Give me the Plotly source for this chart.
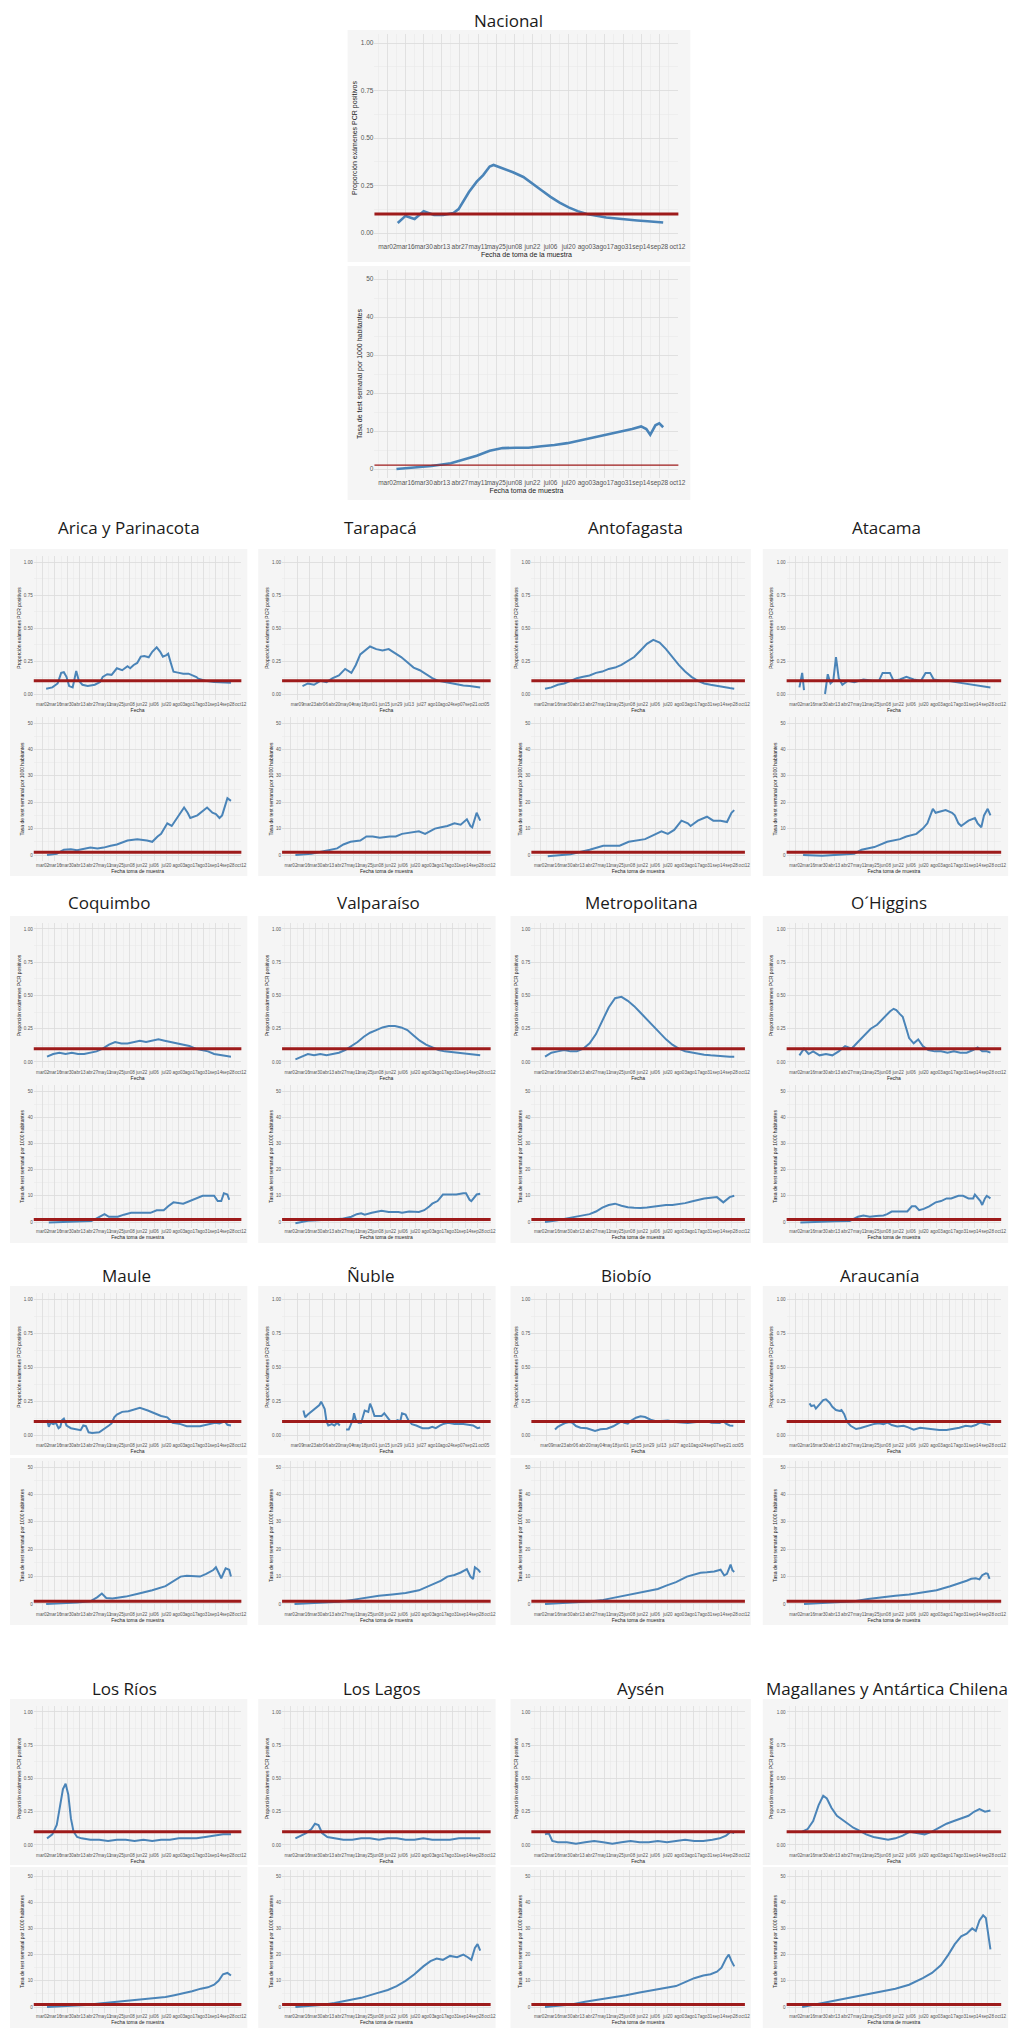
import plotly.graph_objects as go
import pandas as pd

W, H = 1034, 2029
BASE = pd.Timestamp("2020-03-01")
X_RANGE = ["2020-02-21", "2020-10-12 18:00"]

TICK_DATES = ["2020-03-02", "2020-03-16", "2020-03-30", "2020-04-13", "2020-04-27", "2020-05-11",
              "2020-05-25", "2020-06-08", "2020-06-22", "2020-07-06", "2020-07-20", "2020-08-03",
              "2020-08-17", "2020-08-31", "2020-09-14", "2020-09-28", "2020-10-12"]
TICK_LABELS = ["mar02", "mar16", "mar30", "abr13", "abr27", "may11", "may25", "jun08", "jun22",
               "jul06", "jul20", "ago03", "ago17", "ago31", "sep14", "sep28", "oct12"]
ALT_TICK_DATES = ["2020-03-09", "2020-03-23", "2020-04-06", "2020-04-20", "2020-05-04", "2020-05-18",
                  "2020-06-01", "2020-06-15", "2020-06-29", "2020-07-13", "2020-07-27", "2020-08-10",
                  "2020-08-24", "2020-09-07", "2020-09-21", "2020-10-05"]
ALT_TICK_LABELS = ["mar09", "mar23", "abr06", "abr20", "may04", "may18", "jun01", "jun15", "jun29",
                   "jul13", "jul27", "ago10", "ago24", "sep07", "sep21", "oct05"]

POS_TICKS = [0, 0.25, 0.5, 0.75, 1.0]
POS_TICK_LABELS = ["0.00", "0.25", "0.50", "0.75", "1.00"]
TEST_TICKS = [0, 10, 20, 30, 40, 50]
TEST_TICK_LABELS = ["0", "10", "20", "30", "40", "50"]
UMBRAL_POS = 0.10
UMBRAL_TEST = 1.0

# days since 2020-03-01
WEEK_DAYS = [6, 13, 20, 27, 34, 41, 48, 55, 62, 69, 76, 83, 90, 97, 104, 111, 118, 125, 132, 139,
             146, 153, 160, 167, 174, 181, 188, 195, 202, 209, 214]

nacional_pos_dia = [9, 15, 22, 29, 37, 44, 52, 56, 64, 70, 75, 80, 83, 90, 98, 106, 113, 120, 127, 134,
                    141, 148, 155, 162, 170, 178, 186, 194, 202, 210, 214]
nacional_pos = [0.053, 0.09, 0.074, 0.115, 0.095, 0.095, 0.105, 0.126, 0.216, 0.27, 0.305, 0.35, 0.358,
                0.342, 0.32, 0.295, 0.258, 0.225, 0.19, 0.16, 0.135, 0.115, 0.10, 0.09, 0.082, 0.076,
                0.07, 0.066, 0.062, 0.058, 0.055]
nacional_test_dia = [8, 20, 35, 50, 60, 70, 80, 90, 100, 110, 120, 130, 140, 150, 160, 170, 180, 190,
                     197, 201, 204, 208, 211, 214]
nacional_test = [0.0, 0.3, 0.8, 1.5, 2.5, 3.5, 4.8, 5.5, 5.6, 5.6, 6.0, 6.3, 6.8, 7.5, 8.3, 9.0, 9.8,
                 10.5, 11.2, 10.5, 9.0, 11.5, 12.0, 11.0]

arica_pos_dia = [5, 12, 18, 22, 25, 28, 31, 35, 39, 42, 46, 52, 60, 66, 69, 74, 79, 85, 91, 97, 100, 104,
                 108, 112, 116, 121, 125, 130, 134, 137, 141, 143, 146, 149, 154, 160, 166, 171, 175,
                 177, 185, 195, 205, 214]
arica_pos = [0.04, 0.05, 0.08, 0.16, 0.165, 0.13, 0.06, 0.05, 0.175, 0.10, 0.07, 0.06, 0.07, 0.09, 0.13,
             0.15, 0.145, 0.195, 0.18, 0.21, 0.195, 0.22, 0.235, 0.283, 0.288, 0.278, 0.32, 0.354, 0.32,
             0.283, 0.295, 0.305, 0.235, 0.169, 0.162, 0.154, 0.154, 0.14, 0.128, 0.116, 0.10, 0.09,
             0.09, 0.085]
arica_test_dia = [6, 17, 25, 33, 40, 48, 55, 63, 70, 78, 85, 97, 108, 119, 125, 131, 135, 142, 147, 157,
                  161, 165, 168, 176, 180, 187, 193, 197, 201, 204, 210, 214]
arica_test = [0.0, 0.5, 2.0, 2.2, 1.8, 2.3, 2.8, 2.5, 2.8, 3.5, 4.0, 5.5, 6.0, 5.5, 5.0, 7.0, 8.0, 12.0,
              11.0, 16.0, 18.0, 16.0, 14.0, 15.0, 16.0, 18.0, 16.0, 15.5, 14.0, 15.0, 21.5, 20.5]

tarapaca_pos_dia = [14, 20, 27, 34, 41, 48, 55, 62, 69, 74, 79, 84, 90, 97, 104, 111, 118, 125, 132, 139,
                    146, 153, 160, 167, 174, 181, 188, 195, 202, 209, 214]
tarapaca_pos = [0.06, 0.08, 0.07, 0.10, 0.09, 0.12, 0.14, 0.19, 0.16, 0.22, 0.30, 0.33, 0.36, 0.34, 0.33,
                0.34, 0.31, 0.28, 0.24, 0.20, 0.18, 0.15, 0.12, 0.10, 0.09, 0.08, 0.07, 0.065, 0.06,
                0.055, 0.05]
tarapaca_test_dia = [6, 24, 39, 53, 60, 68, 79, 86, 93, 101, 112, 119, 126, 134, 145, 152, 163, 170, 177,
                     185, 192, 199, 203, 205, 210, 214]
tarapaca_test = [0.0, 0.5, 1.5, 2.5, 4.0, 5.0, 5.5, 7.0, 7.0, 6.5, 7.0, 7.0, 8.0, 8.5, 9.0, 8.0, 10.0,
                 10.5, 11.0, 12.0, 11.5, 13.5, 11.0, 10.5, 16.0, 13.0]

antofagasta_pos = [0.04, 0.05, 0.07, 0.08, 0.10, 0.12, 0.13, 0.14, 0.16, 0.17, 0.19, 0.20, 0.22, 0.25,
                   0.28, 0.33, 0.38, 0.41, 0.39, 0.34, 0.28, 0.22, 0.17, 0.13, 0.10, 0.08, 0.07, 0.06,
                   0.05, 0.045, 0.04]
antofagasta_test_dia = [9, 34, 55, 70, 88, 98, 116, 127, 134, 141, 148, 156, 163, 166, 174, 184, 191,
                        199, 206, 211, 214]
antofagasta_test = [-0.5, 0.3, 2.0, 3.5, 3.5, 5.0, 6.0, 8.0, 9.0, 8.0, 9.5, 13.0, 12.0, 11.0, 13.0,
                    14.5, 13.0, 13.0, 12.5, 16.0, 17.0]

atacama_pos_dia = [5, 8, 10, 20, 33, 36, 39, 42, 45, 48, 52, 58, 65, 75, 85, 92, 96, 104, 108, 115, 122,
                   130, 138, 143, 148, 152, 160, 168, 176, 185, 195, 205, 214]
atacama_pos = [0.05, 0.16, 0.03, None, 0.0, 0.15, 0.08, 0.10, 0.28, 0.12, 0.07, 0.10, 0.09, 0.11, 0.10,
               0.10, 0.16, 0.16, 0.10, 0.11, 0.13, 0.11, 0.10, 0.16, 0.16, 0.11, 0.10, 0.10, 0.09, 0.08,
               0.07, 0.06, 0.05]
atacama_test_dia = [9, 30, 65, 73, 87, 101, 115, 122, 133, 140, 145, 151, 154, 165, 172, 175, 179, 182,
                    190, 197, 200, 204, 207, 211, 214]
atacama_test = [0.0, -0.3, 0.5, 2.0, 3.0, 5.0, 6.0, 7.0, 8.0, 10.0, 12.0, 17.5, 16.0, 17.0, 16.0, 15.0,
                12.0, 11.0, 13.0, 14.0, 12.0, 10.5, 15.0, 17.5, 15.0]

coquimbo_pos = [0.04, 0.06, 0.07, 0.06, 0.07, 0.06, 0.06, 0.07, 0.08, 0.10, 0.13, 0.15, 0.14, 0.14, 0.15,
                0.16, 0.15, 0.16, 0.17, 0.16, 0.15, 0.14, 0.13, 0.12, 0.10, 0.09, 0.08, 0.06, 0.05,
                0.045, 0.04]
coquimbo_test_dia = [8, 26, 45, 56, 60, 63, 71, 76, 86, 93, 101, 115, 123, 130, 138, 143, 149, 160, 167,
                     175, 182, 195, 199, 203, 206, 210, 212]
coquimbo_test = [-0.2, 0.1, 0.3, 0.4, 1.0, 1.5, 3.0, 2.0, 2.0, 2.8, 3.5, 3.5, 3.5, 4.5, 4.5, 6.0, 7.5,
                 7.0, 8.0, 9.0, 10.0, 10.0, 8.0, 8.0, 11.0, 10.5, 8.5]

valparaiso_pos = [0.02, 0.04, 0.06, 0.05, 0.06, 0.05, 0.06, 0.07, 0.09, 0.12, 0.15, 0.19, 0.22, 0.24,
                  0.26, 0.27, 0.27, 0.26, 0.24, 0.20, 0.16, 0.13, 0.11, 0.09, 0.08, 0.075, 0.07, 0.065,
                  0.06, 0.055, 0.05]
valparaiso_test_dia = [6, 20, 46, 58, 69, 75, 80, 84, 92, 99, 103, 111, 122, 126, 134, 145, 151, 157, 160,
                       166, 172, 179, 187, 195, 198, 202, 204, 210, 214]
valparaiso_test = [-0.5, 0.5, 1.0, 1.2, 2.0, 3.0, 3.3, 2.8, 3.5, 4.0, 4.3, 3.8, 3.8, 3.5, 4.0, 3.8, 4.5,
                   6.0, 7.0, 8.0, 10.5, 10.5, 10.5, 11.0, 11.0, 8.5, 8.0, 10.5, 10.8]

metropolitana_pos = [0.04, 0.07, 0.08, 0.09, 0.08, 0.08, 0.10, 0.14, 0.21, 0.31, 0.41, 0.48, 0.49, 0.46,
                     0.42, 0.37, 0.32, 0.27, 0.22, 0.17, 0.13, 0.10, 0.08, 0.07, 0.06, 0.055, 0.05, 0.045,
                     0.04, 0.04, 0.04]
metropolitana_test = [0.0, 0.3, 0.7, 1.2, 1.6, 2.0, 2.5, 3.0, 4.0, 5.5, 6.5, 7.0, 6.2, 5.6, 5.4, 5.3,
                      5.5, 5.8, 6.2, 6.5, 6.5, 6.8, 7.2, 7.8, 8.5, 9.0, 9.3, 9.5, 7.5, 9.5, 10.0]

ohiggins_pos_dia = [5, 10, 15, 20, 27, 34, 41, 48, 55, 62, 69, 76, 83, 90, 97, 104, 108, 111, 115, 118,
                    122, 125, 130, 135, 140, 146, 153, 160, 167, 174, 181, 188, 195, 200, 205, 210, 214]
ohiggins_pos = [0.05, 0.10, 0.06, 0.08, 0.05, 0.06, 0.05, 0.08, 0.12, 0.10, 0.15, 0.20, 0.25, 0.28, 0.33,
                0.38, 0.40, 0.39, 0.36, 0.34, 0.25, 0.18, 0.14, 0.17, 0.12, 0.09, 0.08, 0.08, 0.07, 0.08,
                0.07, 0.07, 0.09, 0.11, 0.08, 0.08, 0.07]
ohiggins_test_dia = [6, 26, 45, 60, 63, 69, 75, 82, 89, 97, 101, 106, 115, 123, 128, 132, 136, 141, 147,
                     154, 160, 166, 171, 179, 184, 190, 195, 197, 203, 205, 208, 210, 214]
ohiggins_test = [-0.2, 0.2, 0.3, 0.4, 1.0, 2.0, 2.5, 2.0, 2.3, 2.5, 3.0, 4.0, 4.0, 4.0, 6.0, 6.0, 4.5,
                 5.0, 6.0, 7.5, 8.0, 9.0, 9.0, 10.0, 10.0, 9.0, 9.0, 10.5, 8.0, 6.5, 9.0, 10.0, 9.0]

maule_pos_dia = [6, 8, 10, 13, 16, 19, 21, 23, 25, 28, 33, 41, 44, 47, 50, 53, 57, 65, 70, 76, 79, 82,
                 85, 91, 98, 105, 111, 120, 127, 135, 142, 148, 157, 164, 179, 188, 196, 201, 207, 210, 214]
maule_pos = [0.11, 0.06, 0.09, 0.08, 0.09, 0.05, 0.06, 0.11, 0.12, 0.07, 0.05, 0.04, 0.035, 0.07, 0.065,
             0.02, 0.015, 0.02, 0.04, 0.07, 0.085, 0.13, 0.15, 0.17, 0.175, 0.19, 0.2, 0.18, 0.16, 0.14,
             0.13, 0.09, 0.08, 0.065, 0.065, 0.08, 0.09, 0.085, 0.10, 0.075, 0.07]
maule_test_dia = [5, 20, 40, 55, 63, 68, 73, 80, 95, 110, 125, 140, 150, 157, 164, 179, 186, 194, 197,
                  203, 208, 212, 214]
maule_test = [0.0, 0.2, 0.5, 1.0, 2.5, 3.8, 2.2, 2.0, 2.7, 3.8, 5.0, 6.5, 8.5, 10.0, 10.3, 10.0, 11.0,
              12.4, 13.4, 9.4, 13.0, 12.5, 10.0]

nuble_pos_dia = [15, 17, 20, 24, 27, 31, 33, 35, 37, 39, 41, 43, 47, 50, 53, 56, 59, 63, 66, 68, 71, 72,
                 74, 77, 80, 84, 88, 90, 92, 95, 100, 103, 106, 110, 113, 118, 121, 124, 126, 130, 133,
                 137, 142, 149, 156, 160, 164, 169, 172, 178, 185, 195, 206, 211, 214]
nuble_pos = [0.18, 0.13, 0.15, 0.17, 0.19, 0.21, 0.22, 0.245, 0.22, 0.19, 0.10, 0.07, 0.08, 0.07, 0.09,
             0.07, None, 0.04, 0.04, 0.07, 0.12, 0.16, 0.11, 0.09, 0.09, 0.18, 0.17, 0.23, 0.20, 0.14,
             0.14, 0.14, 0.16, 0.13, 0.10, 0.10, 0.11, 0.10, 0.16, 0.15, 0.11, 0.08, 0.07, 0.05, 0.05,
             0.06, 0.05, 0.07, 0.08, 0.09, 0.08, 0.08, 0.07, 0.05, 0.055]
nuble_test_dia = [5, 20, 40, 55, 70, 85, 100, 115, 130, 145, 160, 170, 177, 185, 192, 199, 203, 206, 208,
                  212, 214]
nuble_test = [0.0, 0.2, 0.5, 0.8, 1.5, 2.3, 3.0, 3.5, 4.0, 5.0, 7.0, 8.5, 10.0, 10.6, 11.5, 12.7, 10.0,
              9.1, 13.4, 12.4, 11.5]

biobio_pos_dia = [17, 20, 24, 28, 33, 36, 40, 45, 52, 58, 61, 67, 74, 81, 86, 90, 93, 97, 100, 106, 111,
                  116, 122, 127, 134, 141, 149, 156, 163, 170, 177, 184, 189, 195, 198, 202, 205, 209, 213]
biobio_pos = [0.04, 0.06, 0.075, 0.088, 0.095, 0.09, 0.066, 0.054, 0.05, 0.04, 0.03, 0.042, 0.046, 0.064,
              0.083, 0.10, 0.09, 0.083, 0.103, 0.127, 0.137, 0.132, 0.112, 0.103, 0.103, 0.107, 0.095,
              0.09, 0.088, 0.093, 0.10, 0.103, 0.09, 0.088, 0.088, 0.103, 0.083, 0.07, 0.068]
biobio_test_dia = [6, 20, 40, 55, 70, 85, 100, 115, 130, 140, 150, 162, 169, 177, 184, 192, 199, 203,
                   206, 210, 212, 214]
biobio_test = [0.0, 0.3, 0.6, 0.9, 1.5, 2.5, 3.5, 4.3, 5.5, 6.8, 8.0, 10.0, 10.6, 11.4, 11.6, 11.9, 12.5,
               10.4, 11.0, 14.4, 12.3, 11.7]

araucania_pos_dia = [16, 18, 21, 23, 27, 31, 34, 38, 41, 45, 49, 51, 54, 57, 61, 67, 72, 79, 86, 92, 97,
                     101, 106, 112, 119, 124, 130, 137, 144, 151, 158, 166, 173, 180, 187, 193, 198, 203,
                     209, 214]
araucania_pos = [0.232, 0.213, 0.218, 0.194, 0.225, 0.257, 0.262, 0.237, 0.208, 0.184, 0.177, 0.184,
                 0.153, 0.097, 0.068, 0.044, 0.051, 0.068, 0.08, 0.087, 0.08, 0.092, 0.073, 0.063, 0.068,
                 0.056, 0.039, 0.053, 0.048, 0.039, 0.036, 0.036, 0.044, 0.053, 0.068, 0.063, 0.073,
                 0.092, 0.08, 0.073]
araucania_test_dia = [10, 30, 50, 65, 80, 95, 110, 125, 140, 155, 170, 180, 188, 193, 198, 202, 205, 209,
                      211, 213]
araucania_test = [0.0, 0.3, 0.6, 1.0, 1.8, 2.5, 3.0, 3.5, 4.3, 5.0, 6.5, 7.5, 8.5, 9.2, 9.4, 9.0, 10.5,
                  11.2, 11.0, 9.2]

losrios_pos_dia = [6, 12, 17, 21, 24, 27, 30, 33, 36, 40, 45, 55, 65, 75, 85, 95, 105, 115, 125, 135,
                   145, 155, 165, 175, 185, 195, 205, 214]
losrios_pos = [0.05, 0.08, 0.15, 0.30, 0.42, 0.46, 0.38, 0.20, 0.10, 0.06, 0.05, 0.04, 0.04, 0.03, 0.04,
               0.04, 0.03, 0.04, 0.03, 0.04, 0.04, 0.05, 0.05, 0.05, 0.06, 0.07, 0.08, 0.08]
losrios_test_dia = [6, 20, 35, 50, 65, 80, 95, 110, 125, 140, 150, 160, 170, 180, 188, 195, 200, 205,
                    210, 214]
losrios_test = [0.0, 0.2, 0.5, 0.8, 1.3, 1.8, 2.3, 2.8, 3.2, 3.8, 4.5, 5.2, 6.0, 7.0, 7.5, 8.5, 10.0,
                12.5, 13.0, 12.0]

loslagos_pos_dia = [6, 12, 18, 24, 28, 32, 36, 42, 50, 60, 70, 80, 90, 100, 110, 120, 130, 140, 150,
                    160, 170, 180, 190, 200, 207, 214]
loslagos_pos = [0.05, 0.07, 0.09, 0.12, 0.16, 0.15, 0.09, 0.06, 0.05, 0.04, 0.04, 0.05, 0.05, 0.04, 0.05,
                0.05, 0.04, 0.04, 0.05, 0.04, 0.04, 0.04, 0.05, 0.05, 0.05, 0.05]
loslagos_test_dia = [6, 20, 35, 50, 65, 80, 95, 110, 120, 130, 140, 150, 158, 165, 172, 180, 188, 195,
                     200, 204, 208, 211, 214]
loslagos_test = [0.0, 0.3, 0.8, 1.5, 2.5, 3.5, 5.0, 6.5, 8.0, 10.0, 12.5, 15.5, 17.5, 18.5, 18.0, 19.5,
                 19.0, 20.0, 19.0, 18.0, 22.5, 24.0, 21.5]

aysen_pos_dia = [6, 10, 14, 20, 30, 40, 50, 60, 70, 80, 90, 100, 110, 120, 130, 140, 150, 160, 170, 180,
                 190, 198, 205, 210, 214]
aysen_pos = [0.08, 0.09, 0.03, 0.02, 0.02, 0.01, 0.02, 0.03, 0.02, 0.01, 0.02, 0.03, 0.02, 0.02, 0.03,
             0.02, 0.03, 0.04, 0.03, 0.03, 0.04, 0.05, 0.07, 0.10, 0.09]
aysen_test_dia = [6, 20, 35, 50, 65, 80, 95, 110, 125, 140, 150, 160, 170, 180, 188, 195, 200, 205, 208,
                  211, 214]
aysen_test = [0.0, 0.5, 1.0, 2.0, 2.8, 3.5, 4.5, 5.5, 6.5, 7.5, 8.0, 9.5, 11.0, 12.0, 12.5, 13.5, 15.0,
              18.5, 20.0, 17.5, 15.5]

magallanes_pos_dia = [8, 14, 20, 26, 31, 35, 40, 46, 52, 58, 64, 70, 78, 86, 94, 102, 110, 118, 126, 134,
                      142, 150, 158, 166, 174, 182, 190, 196, 202, 208, 214]
magallanes_pos = [0.10, 0.12, 0.18, 0.30, 0.37, 0.35, 0.28, 0.22, 0.19, 0.16, 0.13, 0.11, 0.08, 0.06,
                  0.05, 0.04, 0.05, 0.07, 0.10, 0.09, 0.08, 0.10, 0.13, 0.16, 0.18, 0.20, 0.22, 0.25,
                  0.27, 0.25, 0.26]
magallanes_test_dia = [8, 20, 35, 50, 65, 80, 95, 110, 125, 140, 150, 160, 168, 175, 182, 188, 194, 198,
                       202, 206, 209, 212, 214]
magallanes_test = [0.0, 0.8, 2.0, 3.0, 4.0, 5.0, 6.0, 7.0, 8.5, 11.0, 13.0, 16.0, 20.0, 24.0, 27.0, 28.0,
                   30.0, 29.0, 33.0, 35.0, 34.0, 26.0, 22.0]

# ---------------------------------------------------------------- styling / layout
BLUE = "#4A84B8"
RED = "#9E1B1B"
PANEL_BG = "#F5F5F5"
GRID_MAJ = "#DCDCDC"
GRID_MIN = "#E9E9E9"
TICK_COLOR = "#555555"
SMALL_FONT = "Liberation Sans, Arial, sans-serif"
TITLE_FONT = "Open Sans, sans-serif"

ROWS = {
    "A": dict(title=527, t1=562, t0=694, b50=723, b0=855),
    "B": dict(title=902, t1=929, t0=1062, b50=1091, b0=1222),
    "C": dict(title=1275, t1=1299, t0=1435, b50=1467, b0=1604),
    "D": dict(title=1688, t1=1712, t0=1845, b50=1876, b0=2007),
}
COLS = [dict(l=34, r=243, bgl=10, bgr=249), dict(l=284, r=494, bgl=260, bgr=499),
        dict(l=535, r=750, bgl=514, bgr=756), dict(l=792, r=1008, bgl=768, bgr=1015)]

REGIONS = [
    ("Arica y Parinacota", 130, "A", 0, arica_pos_dia, arica_pos, arica_test_dia, arica_test, False),
    ("Tarapacá", 383, "A", 1, tarapaca_pos_dia, tarapaca_pos, tarapaca_test_dia, tarapaca_test, True),
    ("Antofagasta", 640, "A", 2, WEEK_DAYS, antofagasta_pos, antofagasta_test_dia, antofagasta_test, False),
    ("Atacama", 893, "A", 3, atacama_pos_dia, atacama_pos, atacama_test_dia, atacama_test, False),
    ("Coquimbo", 110, "B", 0, WEEK_DAYS, coquimbo_pos, coquimbo_test_dia, coquimbo_test, False),
    ("Valparaíso", 381, "B", 1, WEEK_DAYS, valparaiso_pos, valparaiso_test_dia, valparaiso_test, False),
    ("Metropolitana", 646, "B", 2, WEEK_DAYS, metropolitana_pos, WEEK_DAYS, metropolitana_test, False),
    ("O´Higgins", 895, "B", 3, ohiggins_pos_dia, ohiggins_pos, ohiggins_test_dia, ohiggins_test, False),
    ("Maule", 127, "C", 0, maule_pos_dia, maule_pos, maule_test_dia, maule_test, False),
    ("Ñuble", 373, "C", 1, nuble_pos_dia, nuble_pos, nuble_test_dia, nuble_test, True),
    ("Biobío", 630, "C", 2, biobio_pos_dia, biobio_pos, biobio_test_dia, biobio_test, True),
    ("Araucanía", 885, "C", 3, araucania_pos_dia, araucania_pos, araucania_test_dia, araucania_test, False),
    ("Los Ríos", 125, "D", 0, losrios_pos_dia, losrios_pos, losrios_test_dia, losrios_test, False),
    ("Los Lagos", 385, "D", 1, loslagos_pos_dia, loslagos_pos, loslagos_test_dia, loslagos_test, False),
    ("Aysén", 645, "D", 2, aysen_pos_dia, aysen_pos, aysen_test_dia, aysen_test, False),
    ("Magallanes y Antártica Chilena", 893, "D", 3, magallanes_pos_dia, magallanes_pos,
     magallanes_test_dia, magallanes_test, False),
]

fig = go.Figure()
shapes, annotations = [], []
counter = [0]
EXP = 0.045


def to_dates(days):
    return [BASE + pd.Timedelta(days=d) for d in days]


def add_panel(l, r, y_top_val_px, y_zero_px, is_pos, days, vals, tvals, ttext, xtitle, ytitle,
              fs_tick, fs_title, lw, red_w, bg_box):
    counter[0] += 1
    i = counter[0]
    s = "" if i == 1 else str(i)
    span = y_zero_px - y_top_val_px
    top = y_top_val_px - EXP * span
    bot = y_zero_px + EXP * span
    if is_pos:
        yr = [-EXP, 1 + EXP]
        yt, ytt, ymin = POS_TICKS, POS_TICK_LABELS, 0.125
        thr = UMBRAL_POS
    else:
        yr = [-50 * EXP, 50 * (1 + EXP)]
        yt, ytt, ymin = TEST_TICKS, TEST_TICK_LABELS, 5
        thr = UMBRAL_TEST
    fig.add_trace(go.Scatter(x=to_dates(days), y=vals, mode="lines", connectgaps=False,
                             line=dict(color=BLUE, width=lw), xaxis="x" + s, yaxis="y" + s,
                             hoverinfo="skip", showlegend=False))
    fig.update_layout({
        "xaxis" + s: dict(
            domain=[l / W, r / W], anchor="y" + s, type="date", range=X_RANGE,
            tickmode="array", tickvals=tvals, ticktext=ttext, tickangle=0,
            tickfont=dict(size=fs_tick, color=TICK_COLOR, family=SMALL_FONT),
            showgrid=True, gridcolor=GRID_MAJ, gridwidth=0.8, zeroline=False, showline=False,
            ticks="", ticklen=0,
            minor=dict(tick0="2020-02-24", dtick=14 * 86400000, showgrid=True,
                       gridcolor=GRID_MIN, gridwidth=0.6, ticks=""),
            title=dict(text=xtitle, standoff=1,
                       font=dict(size=fs_title, color="#222222", family=SMALL_FONT)),
            fixedrange=True),
        "yaxis" + s: dict(
            domain=[1 - bot / H, 1 - top / H], anchor="x" + s, range=yr,
            tickmode="array", tickvals=yt, ticktext=ytt,
            tickfont=dict(size=fs_tick, color=TICK_COLOR, family=SMALL_FONT),
            showgrid=True, gridcolor=GRID_MAJ, gridwidth=0.8, zeroline=False, showline=False,
            ticks="", ticklen=0,
            minor=dict(dtick=ymin, tick0=0, showgrid=True, gridcolor=GRID_MIN, gridwidth=0.6, ticks=""),
            title=dict(text=ytitle, standoff=2,
                       font=dict(size=fs_title, color="#222222", family=SMALL_FONT)),
            fixedrange=True),
    })
    shapes.append(dict(type="rect", xref="paper", yref="paper", layer="below",
                       x0=bg_box[0] / W, x1=bg_box[1] / W, y0=1 - bg_box[3] / H, y1=1 - bg_box[2] / H,
                       fillcolor=PANEL_BG, line=dict(width=0)))
    shapes.append(dict(type="line", xref="x" + s + " domain", yref="y" + s, x0=0, x1=1, y0=thr, y1=thr,
                       line=dict(color=RED, width=red_w), layer="above"))


# Nacional
NL, NR = 377, 683
annotations.append(dict(text="Nacional", x=512 / W, y=1 - 20 / H, xref="paper", yref="paper",
                        showarrow=False, xanchor="center", yanchor="middle",
                        font=dict(size=17, family=TITLE_FONT, color="#1a1a1a")))
add_panel(NL, NR, 43, 233, True, nacional_pos_dia, nacional_pos, TICK_DATES, TICK_LABELS,
          "Fecha de toma de la muestra", "Proporción exámenes PCR positivos", 6.5, 7, 2.6, 3.2,
          (350, 695, 30, 262))
add_panel(NL, NR, 279, 469, False, nacional_test_dia, nacional_test, TICK_DATES, TICK_LABELS,
          "Fecha toma de muestra", "Tasa de test semanal por 1000 habitantes", 6.5, 7, 2.6, 1.3,
          (350, 695, 266, 500))

for name, tx, row, col, pd_, pv, td, tv, alt in REGIONS:
    R = ROWS[row]
    C = COLS[col]
    annotations.append(dict(text=name, x=tx / W, y=1 - R["title"] / H, xref="paper", yref="paper",
                            showarrow=False, xanchor="center", yanchor="middle",
                            font=dict(size=17, family=TITLE_FONT, color="#1a1a1a")))
    tdv, tdl = (ALT_TICK_DATES, ALT_TICK_LABELS) if alt else (TICK_DATES, TICK_LABELS)
    add_panel(C["l"], C["r"], R["t1"], R["t0"], True, pd_, pv, tdv, tdl, "Fecha",
              "Proporción exámenes PCR positivos", 4.6, 5, 2.0, 3.0,
              (C["bgl"], C["bgr"], R["t1"] - 13, R["t0"] + 20))
    add_panel(C["l"], C["r"], R["b50"], R["b0"], False, td, tv, TICK_DATES, TICK_LABELS,
              "Fecha toma de muestra", "Tasa de test semanal por 1000 habitantes", 4.6, 5, 2.0, 3.0,
              (C["bgl"], C["bgr"], R["b50"] - 9, R["b0"] + 21))

fig.update_layout(width=W, height=H, margin=dict(l=0, r=0, t=0, b=0, pad=0),
                  paper_bgcolor="white", plot_bgcolor=PANEL_BG, showlegend=False,
                  shapes=shapes, annotations=annotations)

fig.write_html("out.html", config={"displayModeBar": False, "staticPlot": True},
               post_script="document.body.style.margin='0';")
